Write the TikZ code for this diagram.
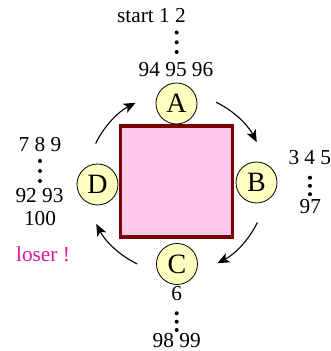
\documentclass[tikz,border=0pt]{standalone}
\usepackage{fontspec}
\setmainfont{Liberation Serif}
\usetikzlibrary{arrows.meta}
\definecolor{sqfill}{RGB}{255,200,235}
\definecolor{sqdraw}{RGB}{125,0,0}
\definecolor{cfill}{RGB}{255,255,192}
\definecolor{losercol}{RGB}{225,20,150}
\tikzset{
  lbl/.style={anchor=base, inner sep=0pt, font=\fontsize{21.3}{24}\selectfont},
  letter/.style={circle, draw=black, line width=0.8pt, fill=cfill, minimum size=41pt, inner sep=0pt, font=\fontsize{28}{30}\selectfont},
  turn/.style={line width=1.1pt, -{Stealth[length=12pt,width=10pt,inset=3pt]}},
  vdot/.style={circle, fill=black, inner sep=0pt, minimum size=4pt}
}
\begin{document}
\begin{tikzpicture}[x=1pt,y=1pt]
\useasboundingbox (0,0) rectangle (331,351);
\coordinate (O) at (176.5,168);
\node[draw=sqdraw, fill=sqfill, line width=3.5pt, minimum width=112.3pt, minimum height=110.9pt, inner sep=0pt] (sq) at (176.4,169.3) {};
\node[letter] (A) at (176.5,247.5) {A};
\node[letter] (B) at (256.5,168.5) {B};
\node[letter] (C) at (177,87) {C};
\node[letter] (D) at (97.5,166.5) {D};
\coordinate (s1) at ([shift={(O)}]154:90);
\coordinate (s2) at ([shift={(O)}]64:90);
\coordinate (s3) at ([shift={(O)}]-26:90);
\coordinate (s4) at ([shift={(O)}]-116:90);
\draw[turn] (s1) arc[start angle=154, end angle=117, radius=90];
\draw[turn] (s2) arc[start angle=64, end angle=27, radius=90];
\draw[turn] (s3) arc[start angle=-26, end angle=-63, radius=90];
\draw[turn] (s4) arc[start angle=-116, end angle=-153, radius=90];
% top
\node[lbl] (t1) at (151.4,328) {start 1 2};
\node[vdot] (td1) at (176.7,318.5) {};
\node[vdot] (td2) at (176.7,308.7) {};
\node[vdot] (td3) at (176.7,299) {};
\node[lbl] (t2) at (176,274.5) {94 95 96};
% left
\node[lbl] (l1) at (40,199.3) {7 8 9};
\node[vdot] (ld1) at (40,190) {};
\node[vdot] (ld2) at (40,180) {};
\node[vdot] (ld3) at (40,170) {};
\node[lbl] (l2) at (39.5,148) {92 93};
\node[lbl] (l3) at (40,125) {100};
\node[lbl, text=losercol] (lo) at (43,89.3) {loser !};
% right
\node[lbl] (r1) at (309.8,186) {3 4 5};
\node[vdot] (rd1) at (310,173.3) {};
\node[vdot] (rd2) at (310,165.2) {};
\node[vdot] (rd3) at (310,156.8) {};
\node[lbl] (r2) at (310.3,137.7) {97};
% bottom
\node[lbl] (b1) at (176.7,50.3) {6};
\node[vdot] (bd1) at (176.7,37.7) {};
\node[vdot] (bd2) at (176.7,29.3) {};
\node[vdot] (bd3) at (176.7,21) {};
\node[lbl] (b2) at (176.7,4) {98 99};
\end{tikzpicture}
\end{document}
